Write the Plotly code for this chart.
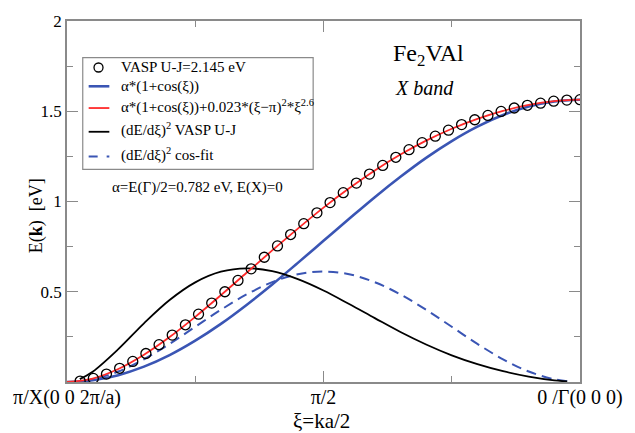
import plotly.graph_objects as go

# ---------------- data (xi in units of pi) ----------------
xi_vasp = [0.0000, 0.0256, 0.0513, 0.0769, 0.1026, 0.1282, 0.1538, 0.1795, 0.2051, 0.2308,
           0.2564, 0.2821, 0.3077, 0.3333, 0.3590, 0.3846, 0.4103, 0.4359, 0.4615, 0.4872,
           0.5128, 0.5385, 0.5641, 0.5897, 0.6154, 0.6410, 0.6667, 0.6923, 0.7179, 0.7436,
           0.7692, 0.7949, 0.8205, 0.8462, 0.8718, 0.8974, 0.9231, 0.9487, 0.9744]
E_vasp = [1.564, 1.562, 1.556, 1.545, 1.533, 1.518, 1.499, 1.477, 1.453, 1.426,
          1.395, 1.362, 1.326, 1.287, 1.245, 1.200, 1.152, 1.102, 1.049, 0.994,
          0.937, 0.877, 0.817, 0.754, 0.691, 0.627, 0.563, 0.500, 0.437, 0.376,
          0.317, 0.260, 0.207, 0.158, 0.114, 0.076, 0.044, 0.020, 0.005]

xi_fit = [0.00, 0.05, 0.10, 0.15, 0.20, 0.25, 0.30, 0.35, 0.40, 0.45, 0.50,
          0.55, 0.60, 0.65, 0.70, 0.75, 0.80, 0.85, 0.90, 0.95, 1.00]
E_cos = [1.564, 1.554, 1.526, 1.479, 1.415, 1.335, 1.242, 1.137, 1.024, 0.904, 0.782,
         0.660, 0.540, 0.427, 0.322, 0.229, 0.149, 0.085, 0.038, 0.010, 0.000]
E_cosfit = [1.564, 1.556, 1.535, 1.502, 1.458, 1.403, 1.337, 1.260, 1.172, 1.073, 0.966,
            0.850, 0.729, 0.605, 0.481, 0.361, 0.249, 0.151, 0.072, 0.019, 0.000]

xi_der = [0.025, 0.05, 0.10, 0.15, 0.20, 0.25, 0.30, 0.35, 0.40, 0.45, 0.50,
          0.55, 0.60, 0.65, 0.70, 0.75, 0.80, 0.85, 0.90, 0.95, 0.975]
dE2_vasp = [0.003, 0.009, 0.030, 0.060, 0.099, 0.148, 0.208, 0.277, 0.354, 0.432, 0.507,
            0.570, 0.614, 0.630, 0.611, 0.552, 0.454, 0.325, 0.182, 0.057, 0.016]
dE2_cos = [0.004, 0.015, 0.058, 0.126, 0.211, 0.306, 0.400, 0.485, 0.553, 0.597, 0.612,
           0.597, 0.553, 0.485, 0.400, 0.306, 0.211, 0.126, 0.058, 0.015, 0.004]

x_tickvals = [1.0, 0.5, 0.0]
x_ticktext = ["π/X(0 0 2π/a)", "π/2", "0 /Γ(0 0 0)"]
y_tickvals = [0.5, 1.0, 1.5, 2.0]
y_ticktext = ["0.5", "1", "1.5", "2"]

BLUE = "#3a55b4"
RED = "#ff2a2a"
GRAY = "#8a8a8a"
FONT = "Liberation Serif"

fig = go.Figure()
fig.add_trace(go.Scatter(x=xi_fit, y=E_cos, mode="lines", line=dict(color=BLUE, width=2.6, shape="spline")))
fig.add_trace(go.Scatter(x=xi_der, y=dE2_cos, mode="lines",
                         line=dict(color=BLUE, width=2, dash="10px,6px", shape="spline")))
fig.add_trace(go.Scatter(x=xi_der, y=dE2_vasp, mode="lines", line=dict(color="black", width=1.8, shape="spline")))
fig.add_trace(go.Scatter(x=xi_fit, y=E_cosfit, mode="lines", line=dict(color=RED, width=1.8, shape="spline")))
fig.add_trace(go.Scatter(x=xi_vasp, y=E_vasp, mode="markers",
                         marker=dict(symbol="circle-open", size=10, color="black", line=dict(width=1.3))))

# ---------------- manual legend ----------------
def px(x):
    return (x - 67) / 521.0

def py(y):
    return (382 - y) / 365.0

shapes = [dict(type="rect", xref="paper", yref="paper", x0=px(83), x1=px(317), y0=py(167), y1=py(54),
               line=dict(color=GRAY, width=1.2), fillcolor="white", layer="above")]
shapes.append(dict(type="circle", xref="paper", yref="paper", xsizemode="pixel", ysizemode="pixel",
                   xanchor=px(99), yanchor=py(64), x0=-4.5, x1=4.5, y0=-4.5, y1=4.5,
                   line=dict(color="black", width=1.3), layer="above"))
legend_lines = [(83, BLUE, 2.6, "solid"), (105, RED, 1.8, "solid"), (129, "black", 1.8, "solid"),
                (154, BLUE, 2, "dash")]
for yy, col, w, d in legend_lines:
    shapes.append(dict(type="line", xref="paper", yref="paper", x0=px(89), x1=px(110), y0=py(yy), y1=py(yy),
                       line=dict(color=col, width=w, dash=d), layer="above"))

legend_texts = [(64, "VASP U-J=2.145 eV"),
                (83, "α*(1+cos(ξ))"),
                (103, "α*(1+cos(ξ))+0.023*(ξ−π)<sup>2</sup>*ξ<sup>2.6</sup>"),
                (127, "(dE/dξ)<sup>2</sup> VASP U-J"),
                (152, "(dE/dξ)<sup>2</sup> cos-fit")]
annotations = []
for yy, txt in legend_texts:
    annotations.append(dict(xref="paper", yref="paper", x=px(120), y=py(yy), text=txt, showarrow=False,
                            xanchor="left", yanchor="middle", font=dict(family=FONT, size=15, color="black")))

annotations += [
    dict(xref="paper", yref="paper", x=px(434), y=py(51), text="Fe<sub>2</sub>VAl", showarrow=False,
         xanchor="center", yanchor="middle", font=dict(family=FONT, size=24, color="black")),
    dict(xref="paper", yref="paper", x=px(430), y=py(85), text="<i>X band</i>", showarrow=False,
         xanchor="center", yanchor="middle", font=dict(family=FONT, size=20, color="black")),
    dict(xref="paper", yref="paper", x=px(200), y=py(185), text="α=E(Γ)/2=0.782 eV, E(X)=0", showarrow=False,
         xanchor="center", yanchor="middle", font=dict(family=FONT, size=15, color="black")),
    dict(xref="paper", yref="paper", x=px(36), y=py(214), text="E(<b>k</b>)  [eV]", showarrow=False,
         textangle=-90, xanchor="center", yanchor="middle", font=dict(family=FONT, size=18, color="black")),
    dict(xref="paper", yref="paper", x=px(325), y=py(421), text="ξ=ka/2", showarrow=False,
         xanchor="center", yanchor="middle", font=dict(family=FONT, size=21, color="black")),
]

fig.update_layout(
    width=635, height=433,
    margin=dict(l=67, r=47, t=17, b=51),
    paper_bgcolor="white", plot_bgcolor="white",
    showlegend=False,
    shapes=shapes, annotations=annotations,
    font=dict(family=FONT, color="black"),
)
fig.update_xaxes(range=[1.0, 0.0], tickmode="array", tickvals=x_tickvals, ticktext=x_ticktext,
                 ticks="inside", ticklen=11, tickwidth=1.2, tickcolor=GRAY, ticklabelstandoff=-4,
                 minor=dict(tickmode="array", tickvals=[0.25, 0.75], ticks="inside", ticklen=6,
                            tickwidth=1.2, tickcolor=GRAY),
                 showline=True, linecolor=GRAY, linewidth=1.5, mirror="ticks",
                 showgrid=False, zeroline=False, tickfont=dict(family=FONT, size=20, color="black"))
fig.update_yaxes(range=[0, 2], tickmode="array", tickvals=y_tickvals, ticktext=y_ticktext,
                 ticks="inside", ticklen=11, tickwidth=1.2, tickcolor=GRAY,
                 minor=dict(tickmode="array", tickvals=[0.25, 0.75, 1.25, 1.75], ticks="inside", ticklen=6,
                            tickwidth=1.2, tickcolor=GRAY),
                 showline=True, linecolor=GRAY, linewidth=1.5, mirror="ticks",
                 showgrid=False, zeroline=False, tickfont=dict(family=FONT, size=17, color="black"))

fig.write_html("out.html")
